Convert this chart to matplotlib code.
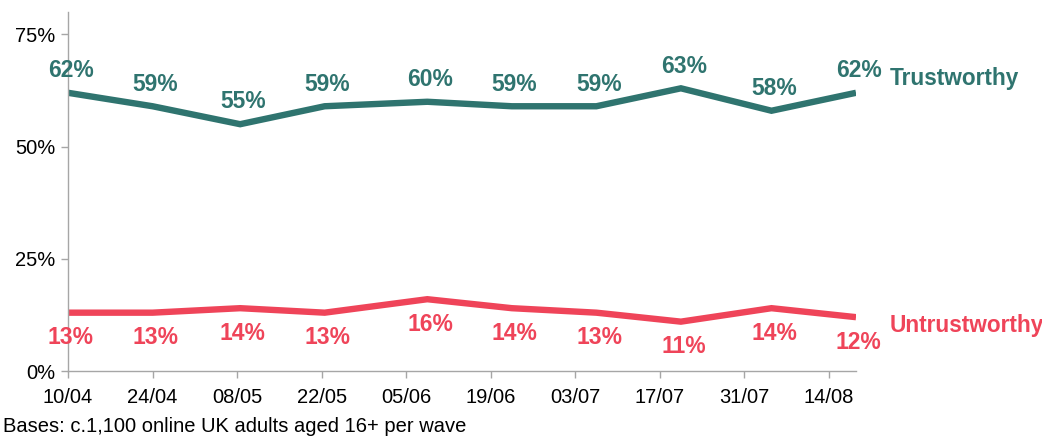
import matplotlib
matplotlib.use("Agg")
import matplotlib.pyplot as plt

# tick dates (every 14 days from 10/04) and the survey positions in days since 10/04
tick_labels = ["10/04", "24/04", "08/05", "22/05", "05/06", "19/06", "03/07", "17/07", "31/07", "14/08"]
tick_days = [0, 14, 28, 42, 56, 70, 84, 98, 112, 126]
wave_days = [0, 14, 28.5, 42.5, 59.5, 73.5, 87.5, 101.5, 116.5, 130.5]
trustworthy = [62, 59, 55, 59, 60, 59, 59, 63, 58, 62]
untrustworthy = [13, 13, 14, 13, 16, 14, 13, 11, 14, 12]
yticks = [0, 25, 50, 75]
ytick_labels = ["0%", "25%", "50%", "75%"]

teal = "#2F746F"
red = "#EF4459"
grey = "#A6A6A6"

plt.rcParams['font.family'] = ['Liberation Sans', 'DejaVu Sans']

fig = plt.figure(figsize=(10.42, 4.37), dpi=100)
ax = fig.add_axes([0.0653, 0.151, 0.7562, 0.8215])

ax.plot(wave_days, trustworthy, color=teal, lw=4.6, solid_joinstyle='miter', solid_capstyle='butt')
ax.plot(wave_days, untrustworthy, color=red, lw=4.6, solid_joinstyle='miter', solid_capstyle='butt')

for xi, v in zip(wave_days, trustworthy):
    ax.annotate(f"{v}%", (xi, v), xytext=(2, 16), textcoords='offset points',
                ha='center', va='center', color=teal, fontsize=16.5, fontweight='bold',
                annotation_clip=False)
for xi, v in zip(wave_days, untrustworthy):
    ax.annotate(f"{v}%", (xi, v), xytext=(2, -18), textcoords='offset points',
                ha='center', va='center', color=red, fontsize=16.5, fontweight='bold',
                annotation_clip=False)

ax.annotate("Trustworthy", (wave_days[-1], trustworthy[-1]), xytext=(24, 10), textcoords='offset points',
            ha='left', va='center', color=teal, fontsize=16.3, fontweight='bold',
            annotation_clip=False)
ax.annotate("Untrustworthy", (wave_days[-1], untrustworthy[-1]), xytext=(24, -6), textcoords='offset points',
            ha='left', va='center', color=red, fontsize=16.3, fontweight='bold',
            annotation_clip=False)

ax.set_xlim(0, wave_days[-1])
ax.set_ylim(0, 80)
ax.set_xticks(tick_days)
ax.set_xticklabels(tick_labels)
ax.set_yticks(yticks)
ax.set_yticklabels(ytick_labels)
for s in ['top', 'right']:
    ax.spines[s].set_visible(False)
for s in ['left', 'bottom']:
    ax.spines[s].set_color(grey)
    ax.spines[s].set_linewidth(1.0)
ax.tick_params(axis='both', colors=grey, labelcolor='black', labelsize=14.5, length=5, width=1.0)
ax.tick_params(axis='x', pad=7)
ax.tick_params(axis='y', pad=4)
for lab in ax.get_xticklabels():
    lab.set_x(lab.get_position()[0])

fig.text(0.003, 0.023, "Bases: c.1,100 online UK adults aged 16+ per wave", ha='left', va='center',
         fontsize=14.5, color='black')

fig.savefig("out.png", dpi=100)
